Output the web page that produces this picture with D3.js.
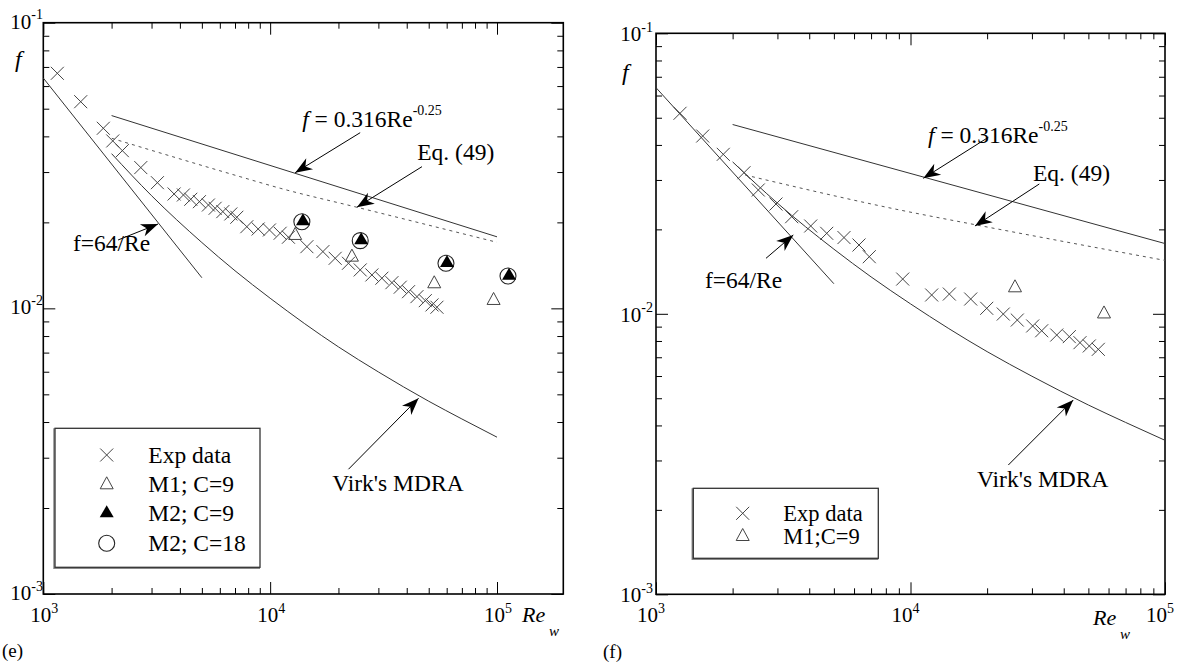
<!DOCTYPE html>
<html><head><meta charset="utf-8">
<script src="https://cdn.jsdelivr.net/npm/d3@7"></script>
<style>
body{margin:0;background:#fff}
svg{display:block}
</style>
</head><body>
<svg id="c" width="1183" height="664" font-family="'Liberation Serif', 'Times New Roman', Tinos, 'DejaVu Serif', serif"></svg>
<script>
// ---------------- DATA ----------------
// Panel (e)
const RE_EXP_E = [1153,1462,1839,2024,2231,2690,3184,3772,4146,4468,4877,5344,5720,6185,6708,7130,7892,8853,9929,11070,12040,14520,17080,19350,22150,24950,28090,31090,34420,37460,40740,44380,48290,51690,54360];
const F_EXP_E  = [0.0665,0.0529,0.0427,0.03855,0.03565,0.0311,0.02754,0.02514,0.02494,0.02409,0.02363,0.023,0.0224,0.02181,0.0214,0.02084,0.01931,0.01896,0.01881,0.01832,0.01774,0.01644,0.0158,0.01497,0.01438,0.01363,0.01309,0.01275,0.0123,0.01186,0.01144,0.01099,0.01064,0.01028,0.01009];
const RE_M1_E  = [12890,22930,52890,96600];
const F_M1_E   = [0.01807,0.01517,0.01224,0.0107];
const RE_M2C9_E  = [13950,25200,60200,113000];
const F_M2C9_E   = [0.0202,0.0173,0.0144,0.0130];
const RE_M2C18_E = [13800,24950,59570,111800];
const F_M2C18_E  = [0.02011,0.01726,0.01438,0.01298];
const RE_EQ49_E = [2004,7375,11070,24130,100000];
const F_EQ49_E  = [0.03937,0.0289,0.02633,0.02259,0.01703];
// Panel (f)
const RE_EXP_F = [1243,1526,1838,2217,2523,2961,3413,4054,4686,5479,6275,6888,9319,12110,14210,17240,19930,23150,26280,30210,32770,37550,42070,46340,50420,54700];
const F_EXP_F  = [0.05186,0.04303,0.03703,0.03184,0.02763,0.02462,0.02219,0.02056,0.01936,0.0187,0.01759,0.01598,0.0133,0.01167,0.01176,0.01129,0.01046,0.00998,0.0095,0.00905,0.0087,0.0084,0.00829,0.00789,0.00768,0.00747];
const RE_M1_F  = [25740,57590];
const F_M1_F   = [0.01243,0.01003];
const RE_EQ49_F = [2240,9090,18200,100000];
const F_EQ49_F  = [0.03125,0.02344,0.02073,0.0155];
// Shared reference curves
const RE_LAM = [1000,5000];
const F_LAM  = [0.064,0.0128];
const RE_BLAS = [2000,100000];
const F_BLAS  = [0.0473,0.0178];
const RE_VIRK = [2000,3000,5000,7000,10000,20000,30000,50000,70000,100000];
const F_VIRK  = [0.0348,0.0248,0.0170,0.01354,0.01085,0.00733,0.00599,0.00473,0.0041,0.00354];
// Tick values
const X_MAJOR = [1e3,1e4,1e5];
const X_MINOR = [2e3,3e3,4e3,5e3,6e3,7e3,8e3,9e3,2e4,3e4,4e4,5e4,6e4,7e4,8e4,9e4];
const Y_MAJOR = [1e-3,1e-2,1e-1];
const Y_MINOR = [2e-3,3e-3,4e-3,5e-3,6e-3,7e-3,8e-3,9e-3,2e-2,3e-2,4e-2,5e-2,6e-2,7e-2,8e-2,9e-2];
const X_LABELS = [["10","3"],["10","4"],["10","5"]];
const Y_LABELS = [["10","-3"],["10","-2"],["10","-1"]];
// Legends
const LEG_E = ["Exp data","M1; C=9","M2; C=9","M2; C=18"];
const LEG_F = ["Exp data","M1;C=9"];
// Annotations: [text, textRe, textF, tailRe, tailF, tipRe, tipF]
const ANN_E = [
  ["blas", 13840,0.04313, 24940,0.04121, 12890,0.02985],
  ["Eq. (49)", 44500,0.03307, 46690,0.03133, 24130,0.0226],
  ["f=64/Re", 1352,0.01588, 2136,0.01735, 3206,0.01974],
  ["Virk's MDRA", 18770,0.002296, 22150,0.002734, 45110,0.004845]
];
const ANN_F = [
  ["blas", 11720,0.04063, 20220,0.04257, 11230,0.03041],
  ["Eq. (49)", 30290,0.02975, 32070,0.02903, 17920,0.02056],
  ["f=64/Re", 1558,0.01236, 2705,0.01577, 3463,0.0191],
  ["Virk's MDRA", 18250,0.002413, 24230,0.00289, 43620,0.00493]
];

// ---------------- LAYOUT ----------------
const svg = d3.select("#c");
const zip = (a,b)=>a.map((v,i)=>[v,b[i]]);

const panels = [
  {x0:43.3, x1:563.3, y0:594, y1:22.7, xmax:1.96e5, xlabOff:0, ylabX:43, ylabDy:6,
   fLab:[15,67], reLab:[522,622], panelLab:["(e)",2,657],
   exp:zip(RE_EXP_E,F_EXP_E), m1:zip(RE_M1_E,F_M1_E), m2c9:zip(RE_M2C9_E,F_M2C9_E), m2c18:zip(RE_M2C18_E,F_M2C18_E),
   eq49:zip(RE_EQ49_E,F_EQ49_E), ann:ANN_E, legFont:23.5,
   legend:{x:55,y:428.3,w:205,h:139,mx:106.7,tx:148.3,rows:[455,484.3,513.3,543.3],items:LEG_E,types:["x","tri","ftri","circ"]}},
  {x0:656, x1:1165, y0:594.3, y1:33.3, xmax:1e5, xlabOff:-6, ylabX:653, ylabDy:8,
   fLab:[622,80], reLab:[1093,625], panelLab:["(f)",603,658],
   exp:zip(RE_EXP_F,F_EXP_F), m1:zip(RE_M1_F,F_M1_F), m2c9:[], m2c18:[],
   eq49:zip(RE_EQ49_F,F_EQ49_F), ann:ANN_F, legFont:22.5,
   legend:{x:693.3,y:488.3,w:185,h:70,mx:742.7,tx:783.3,rows:[513.3,536],items:LEG_F,types:["x","tri"]}}
];

const crossPath = "M-6.5,-6.5L6.5,6.5M-6.5,6.5L6.5,-6.5";
const triPath = "M0,-7.5L6.5,4.5L-6.5,4.5Z";
const ftriPath = "M0,-8L7,4L-7,4Z";

function marker(g, type, x, y){
  if(type==="x") g.append("path").attr("d",crossPath).attr("transform",`translate(${x},${y})`).attr("stroke","#444").attr("stroke-width",1).attr("fill","none");
  else if(type==="tri") g.append("path").attr("d",triPath).attr("transform",`translate(${x},${y})`).attr("stroke","#444").attr("stroke-width",1).attr("fill","none");
  else if(type==="ftri") g.append("path").attr("d",ftriPath).attr("transform",`translate(${x},${y})`).attr("fill","#000");
  else if(type==="circ") g.append("circle").attr("cx",x).attr("cy",y).attr("r",8).attr("stroke","#222").attr("stroke-width",1.1).attr("fill","none");
}

function supText(g, x, y, base, exp, anchor, size, supSize, italic){
  const t = g.append("text").attr("x",x).attr("y",y).attr("text-anchor",anchor||"start").attr("font-size",size);
  if(italic) t.attr("font-style","italic");
  t.append("tspan").text(base);
  t.append("tspan").attr("dy",-size*0.45).attr("font-size",supSize).text(exp);
  return t;
}

function arrow(g, x1,y1,x2,y2){
  g.append("line").attr("x1",x1).attr("y1",y1).attr("x2",x2).attr("y2",y2).attr("stroke","#000").attr("stroke-width",1);
  const a = Math.atan2(y2-y1,x2-x1);
  const L=17, W=6.5, N=12;
  const p = (d,s)=>[x2 - d*Math.cos(a) - s*Math.sin(a), y2 - d*Math.sin(a) + s*Math.cos(a)];
  const pts=[[x2,y2],p(L,W),p(N,0),p(L,-W)];
  g.append("path").attr("d","M"+pts.map(q=>q.join(",")).join("L")+"Z").attr("fill","#000");
}

panels.forEach(P=>{
  const g = svg.append("g");
  const x = d3.scaleLog().domain([1e3,P.xmax]).range([P.x0,P.x1]);
  const y = d3.scaleLog().domain([1e-3,1e-1]).range([P.y0,P.y1]);
  const W = P.x1-P.x0, H = P.y0-P.y1;

  const mk = (axis, vals, size, tr)=>{
    const a = g.append("g").attr("transform",tr).call(axis.tickValues(vals).tickSize(size).tickFormat(""));
    a.select(".domain").remove();
    a.selectAll("line").attr("stroke","#000").attr("stroke-width",1);
  };
  mk(d3.axisBottom(x), X_MAJOR, -12, `translate(0,${P.y0})`);
  mk(d3.axisBottom(x), X_MINOR, -6, `translate(0,${P.y0})`);
  mk(d3.axisTop(x), X_MAJOR, -12, `translate(0,${P.y1})`);
  mk(d3.axisTop(x), X_MINOR, -6, `translate(0,${P.y1})`);
  mk(d3.axisLeft(y), Y_MAJOR, -12, `translate(${P.x0},0)`);
  mk(d3.axisLeft(y), Y_MINOR, -6, `translate(${P.x0},0)`);
  mk(d3.axisRight(y), Y_MAJOR, -12, `translate(${P.x1},0)`);
  mk(d3.axisRight(y), Y_MINOR, -6, `translate(${P.x1},0)`);

  g.append("rect").attr("x",P.x0).attr("y",P.y1).attr("width",W).attr("height",H)
    .attr("fill","none").attr("stroke","#000").attr("stroke-width",1.6);

  X_MAJOR.forEach((v,i)=>{
    supText(g, x(v)+P.xlabOff+1, P.y0+28, X_LABELS[i][0], X_LABELS[i][1], "middle", 21, 14);
  });
  Y_MAJOR.forEach((v,i)=>{
    supText(g, P.ylabX, y(v)+P.ylabDy, Y_LABELS[i][0], Y_LABELS[i][1], "end", 21, 14);
  });
  g.append("text").attr("x",P.fLab[0]).attr("y",P.fLab[1]).attr("font-size",24).attr("font-style","italic").text("f");
  g.append("text").attr("x",P.reLab[0]).attr("y",P.reLab[1]).attr("font-size",22).attr("font-style","italic").text("Re");
  g.append("text").attr("x",P.reLab[0]+27).attr("y",P.reLab[1]+14).attr("font-size",15).attr("font-style","italic").text("w");
  g.append("text").attr("x",P.panelLab[1]).attr("y",P.panelLab[2]).attr("font-size",19).text(P.panelLab[0]);

  const line = d3.line().x(d=>x(d[0])).y(d=>y(d[1])).curve(d3.curveMonotoneX);
  const curve = (data, dash, color)=>g.append("path").datum(data).attr("d",line).attr("fill","none")
      .attr("stroke",color).attr("stroke-width",1).attr("stroke-dasharray",dash||null);
  curve(zip(RE_LAM,F_LAM), null, "#333");
  curve(zip(RE_BLAS,F_BLAS), null, "#333");
  curve(zip(RE_VIRK,F_VIRK), null, "#333");
  curve(P.eq49, "3,4", "#555");

  P.exp.forEach(d=>marker(g,"x",x(d[0]),y(d[1])));
  P.m1.forEach(d=>marker(g,"tri",x(d[0]),y(d[1])));
  P.m2c18.forEach(d=>marker(g,"circ",x(d[0]),y(d[1])));
  P.m2c9.forEach(d=>marker(g,"ftri",x(d[0]),y(d[1])));

  P.ann.forEach(a=>{
    const tx=x(a[1]), ty=y(a[2]);
    if(a[0]==="blas"){
      const t=g.append("text").attr("x",tx).attr("y",ty).attr("font-size",23.5);
      t.append("tspan").attr("font-style","italic").text("f");
      t.append("tspan").text(" = 0.316Re");
      t.append("tspan").attr("dy",-12).attr("font-size",14).text("-0.25");
    } else {
      g.append("text").attr("x",tx).attr("y",ty).attr("font-size",23.5).text(a[0]);
    }
    arrow(g, x(a[3]),y(a[4]), x(a[5]),y(a[6]));
  });

  const L=P.legend;
  // soft shadow on left/bottom edges like the reference
  g.append("path").attr("d",`M${L.x-1},${L.y}L${L.x-1},${L.y+L.h+1}L${L.x+L.w},${L.y+L.h+1}`)
    .attr("fill","none").attr("stroke","#888").attr("stroke-width",1.5);
  g.append("rect").attr("x",L.x).attr("y",L.y).attr("width",L.w).attr("height",L.h)
    .attr("fill","#fff").attr("stroke","#333").attr("stroke-width",1.3);
  L.items.forEach((s,i)=>{
    const cy=L.rows[i];
    marker(g,L.types[i],L.mx,cy);
    g.append("text").attr("x",L.tx).attr("y",cy+8).attr("font-size",P.legFont).text(s);
  });
});
</script>
</body></html>
